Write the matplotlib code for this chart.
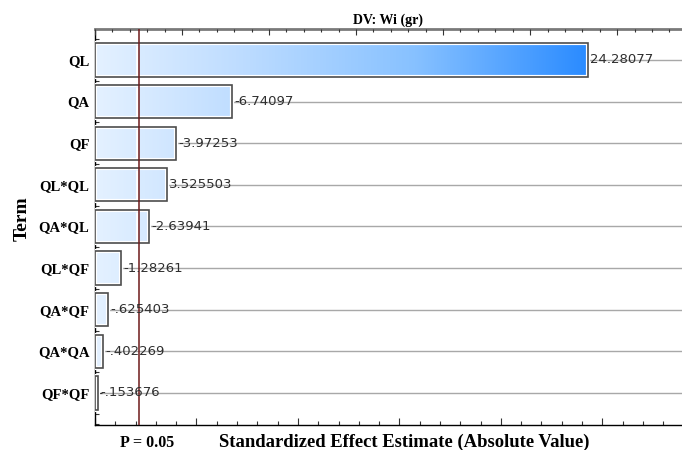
import numpy as np
import matplotlib
matplotlib.use("Agg")
from matplotlib import pyplot as plt
from matplotlib.colors import LinearSegmentedColormap
from matplotlib.ticker import MultipleLocator, NullFormatter

#--- Pareto data (standardized effects)
terms = ["QL", "QA", "QF", "QL*QL", "QA*QL", "QL*QF", "QA*QF", "QA*QA", "QF*QF"]
effects = [24.28077, 6.74097, 3.97253, 3.525503, 2.63941, 1.28261, 0.625403, 0.402269, 0.153676]
effect_labels = ["24.28077", "-6.74097", "-3.97253", "3.525503", "-2.63941",
                 "-1.28261", "-.625403", "-.402269", "-.153676"]
p_crit = 2.17
p_label = "P = 0.05"

serif = "Liberation Serif"
fig = plt.figure(figsize=(6.82, 4.5), dpi=100)
ax = fig.add_axes([0.1393, 0.0556, 0.8600, 0.880])

y = np.arange(len(terms))
bar_h = 0.8
x_max = 28.9

#--- horizontal gridlines at each term
for yi in y:
    ax.axhline(yi, color="#a8a8a8", lw=1.0, zorder=0)

#--- gradient fill for the bars
cmap = LinearSegmentedColormap.from_list(
    "blues", [(0.0, "#e4f1ff"), (0.3, "#bddcff"), (0.65, "#87c1ff"), (1.0, "#2a8bff")])
ramp_max = max(effects)
for yi, v in zip(y, effects):
    ramp = np.linspace(0, v, 256).reshape(1, -1)
    ax.imshow(ramp, cmap=cmap, vmin=0, vmax=ramp_max, aspect="auto",
              extent=[0, v, yi + bar_h / 2, yi - bar_h / 2], zorder=2,
              interpolation="bilinear")

#--- bar outlines: white inner highlight, dark edge
ax.barh(y, effects, height=bar_h, fill=False, edgecolor="white", lw=3.0, zorder=3)
ax.barh(y, effects, height=bar_h, fill=False, edgecolor="#4d4d4d", lw=1.2, zorder=4)

#--- white split inside bars at the critical line
for yi, v in zip(y, effects):
    if v > p_crit:
        ax.vlines(p_crit - 0.1, yi - bar_h / 2 + 0.05, yi + bar_h / 2 - 0.05,
                  color="white", lw=2.0, zorder=3.5)

ax.axvline(p_crit, color="#6e1a1a", lw=1.1, zorder=5)

#--- value labels
for yi, v, lab in zip(y, effects, effect_labels):
    ax.text(v + 0.12, yi, lab, va="center", ha="left", fontsize=9.5,
            color="#2e2e2e", family="DejaVu Sans", zorder=6)

ax.set_xlim(0, x_max)
ax.set_ylim(len(terms) - 1 + 0.77, -0.745)

ax.set_yticks(y)
ax.set_yticklabels(terms, fontsize=10.5, fontweight="bold", family=serif)
ax.yaxis.set_minor_locator(MultipleLocator(0.25))
ax.xaxis.set_major_locator(MultipleLocator(5))
ax.xaxis.set_minor_locator(MultipleLocator(1))
ax.xaxis.set_major_formatter(NullFormatter())
ax.tick_params(axis="both", which="major", direction="in", length=5, width=0.8, color="#333333")
ax.tick_params(axis="both", which="minor", direction="in", length=3, width=0.8, color="#333333")
ax.tick_params(axis="y", which="major", pad=4)

for side in ["left", "bottom"]:
    ax.spines[side].set_color("black")
    ax.spines[side].set_linewidth(1.0)
ax.spines["right"].set_visible(False)
ax.spines["top"].set_color("#7a7a7a")
ax.spines["top"].set_linewidth(2.0)

#--- top axis ticks
top = ax.twiny()
top.set_xlim(0, 33.7)
top.xaxis.set_major_locator(MultipleLocator(5))
top.xaxis.set_minor_locator(MultipleLocator(1))
top.xaxis.set_major_formatter(NullFormatter())
top.tick_params(axis="x", which="major", direction="in", length=4, width=0.8, color="#333333")
top.tick_params(axis="x", which="minor", direction="in", length=2, width=0.8, color="#333333")
for side in top.spines:
    top.spines[side].set_visible(False)

ax.text(p_crit + 0.4, -0.025, p_label, transform=ax.get_xaxis_transform(), ha="center", va="top",
        fontsize=11.5, fontweight="bold", family=serif)
ax.set_xlabel("Standardized Effect Estimate (Absolute Value)", fontsize=13.4,
              fontweight="bold", family=serif, labelpad=1)
ax.xaxis.set_label_coords(0.528, -0.022)
ax.xaxis.label.set_va("top")
ax.set_ylabel("Term", fontsize=14, fontweight="bold", family=serif)
ax.yaxis.set_label_coords(-0.11, 0.52)
top.set_title("DV: Wi (gr)", fontsize=10, fontweight="bold", family=serif, pad=4)

fig.savefig("out.png", dpi=100)
